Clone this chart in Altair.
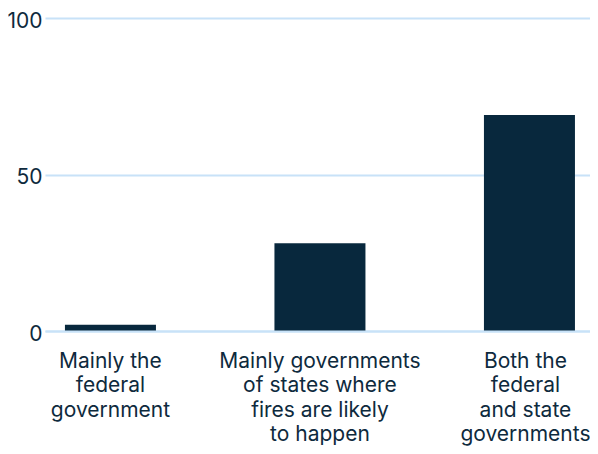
import altair as alt
import pandas as pd

categories = [
    "Mainly the|federal|government",
    "Mainly governments|of states where|fires are likely|to happen",
    "Both the|federal|and state|governments",
]
values = [2, 28, 69]
y_ticks = [0, 50, 100]

df = pd.DataFrame({"category": categories, "value": values})

TEXT = "#0e2a3d"
GRID = "#c8e2f8"
BAR = "#08283d"
FONT = "Inter"

chart = (
    alt.Chart(df)
    .mark_bar(color=BAR)
    .encode(
        x=alt.X(
            "category:N",
            sort=categories,
            title=None,
            scale=alt.Scale(paddingInner=0.5656, paddingOuter=0.0835, align=0.57),
            axis=alt.Axis(
                labelAngle=0,
                labelExpr="split(datum.label, '|')",
                labelFont=FONT,
                labelFontSize=21,
                labelColor=TEXT,
                labelLineHeight=24.5,
                labelPadding=19,
                labelBaseline="top",
                labelLimit=0,
                labelOffset=alt.condition(
                    f"datum.value === '{categories[2]}'", alt.value(-4), alt.value(0)
                ),
                ticks=False,
                domain=True,
                domainColor=GRID,
                domainWidth=2,
                grid=False,
                zindex=1,
            ),
        ),
        y=alt.Y(
            "value:Q",
            title=None,
            scale=alt.Scale(domain=[0, 100], nice=False),
            axis=alt.Axis(
                values=y_ticks,
                labelFont=FONT,
                labelFontSize=21,
                labelColor=TEXT,
                labelPadding=3,
                labelOffset=3,
                ticks=False,
                tickSize=0,
                domain=False,
                grid=True,
                gridColor=GRID,
                gridWidth=2,
                zindex=0,
            ),
        ),
    )
    .properties(
        width=545,
        height=313,
        autosize=alt.AutoSizeParams(type="none"),
        padding={"left": 37, "top": 10, "right": 0, "bottom": 115},
    )
    .configure_view(stroke=None)
)

chart.save("out.html", embed_options={"renderer": "svg", "actions": False})
